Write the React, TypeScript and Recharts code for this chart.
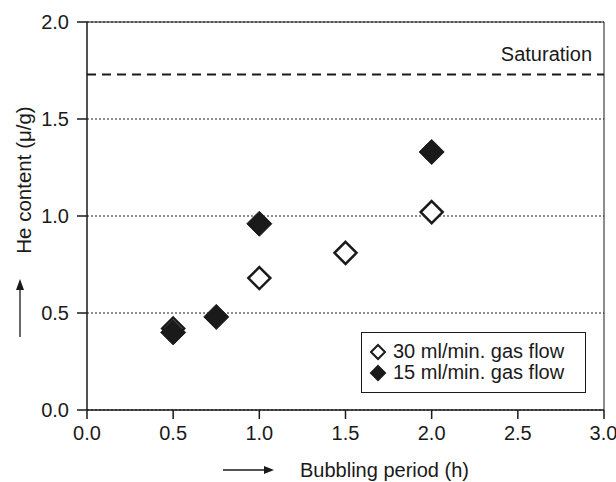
import { CartesianGrid, ReferenceLine, Scatter, ScatterChart, XAxis, YAxis } from "recharts";

const xTicks = [0, 0.5, 1, 1.5, 2, 2.5, 3];
const yTicks = [0, 0.5, 1, 1.5, 2];
const saturation = 1.73;

const flow30Hours = [0.5, 1.0, 1.5, 2.0];
const flow30Content = [0.42, 0.68, 0.81, 1.02];
const flow15Hours = [0.5, 0.75, 1.0, 2.0];
const flow15Content = [0.4, 0.48, 0.96, 1.33];

const flow30 = flow30Hours.map((x, i) => ({ x, y: flow30Content[i] }));
const flow15 = flow15Hours.map((x, i) => ({ x, y: flow15Content[i] }));

const FONT = "'Liberation Sans', Arial, sans-serif";
const INK = "#1a1a1a";

const OpenDiamond = (props: any) => {
  const { cx, cy } = props;
  const r = 11;
  return (
    <polygon
      points={`${cx},${cy - r} ${cx + r},${cy} ${cx},${cy + r} ${cx - r},${cy}`}
      fill="#fff"
      stroke={INK}
      strokeWidth={2.5}
    />
  );
};

const FilledDiamond = (props: any) => {
  const { cx, cy } = props;
  const r = 12.5;
  return (
    <polygon
      points={`${cx},${cy - r} ${cx + r},${cy} ${cx},${cy + r} ${cx - r},${cy}`}
      fill={INK}
      stroke={INK}
      strokeWidth={1}
    />
  );
};

const legendItems = [
  { label: "30 ml/min. gas flow", filled: false },
  { label: "15 ml/min. gas flow", filled: true },
];

const LegendBox = () => (
  <div
    style={{
      position: "absolute",
      left: 361,
      top: 332,
      width: 225,
      height: 61,
      border: `1px solid ${INK}`,
      background: "#fff",
      fontFamily: FONT,
      fontSize: 20,
      color: INK,
      padding: "8px 0 0 7px",
      lineHeight: "21px",
      boxSizing: "border-box",
    }}
  >
    {legendItems.map((item) => (
      <div key={item.label} style={{ display: "flex", alignItems: "center", whiteSpace: "nowrap" }}>
        <svg width={18} height={18} style={{ marginRight: 6 }}>
          <polygon
            points="9,2 16,9 9,16 2,9"
            fill={item.filled ? INK : "#fff"}
            stroke={INK}
            strokeWidth={2}
          />
        </svg>
        <span>{item.label}</span>
      </div>
    ))}
  </div>
);

const SaturationLabel = (props: any) => {
  const { viewBox } = props;
  return (
    <text
      x={viewBox.x + viewBox.width - 12}
      y={viewBox.y - 13}
      textAnchor="end"
      fontFamily={FONT}
      fontSize={20}
      fill={INK}
    >
      Saturation
    </text>
  );
};

const YTitle = () => (
  <g>
    <text
      x={23}
      y={180}
      transform="rotate(-90 23 180)"
      textAnchor="middle"
      dominantBaseline="central"
      fontFamily={FONT}
      fontSize={20.5}
      fill={INK}
    >
      He content (μ/g)
    </text>
    <line x1={20} y1={337} x2={20} y2={288} stroke={INK} strokeWidth={1.3} />
    <polygon points="20,279 16,290 24,290" fill={INK} />
  </g>
);

const XTitle = () => (
  <g>
    <line x1={223} y1={470} x2={265} y2={470} stroke={INK} strokeWidth={1.3} />
    <polygon points="274,470 264,466 264,474" fill={INK} />
    <text x={300} y={477} fontFamily={FONT} fontSize={20} fill={INK}>
      Bubbling period (h)
    </text>
  </g>
);

const tickStyle = { fontFamily: FONT, fontSize: 20, fill: INK };

export default function App() {
  return (
    <div style={{ position: "absolute", left: 0, top: 0, width: 616, height: 482, background: "#fff" }}>
      <ScatterChart width={616} height={482} margin={{ top: 22, right: 12, bottom: 0, left: 0 }}>
        <CartesianGrid vertical={false} stroke={INK} strokeDasharray="2 2" strokeWidth={1} />
        <XAxis
          type="number"
          dataKey="x"
          domain={[0, 3]}
          ticks={xTicks}
          tickFormatter={(v: number) => v.toFixed(1)}
          height={72}
          tickSize={9}
          tickMargin={7}
          tick={tickStyle}
          stroke={INK}
          strokeWidth={1.5}
          label={{ content: () => <XTitle /> }}
        />
        <YAxis
          type="number"
          dataKey="y"
          domain={[0, 2]}
          ticks={yTicks}
          tickFormatter={(v: number) => v.toFixed(1)}
          width={87}
          tickSize={10}
          tickMargin={8}
          tick={tickStyle}
          stroke={INK}
          strokeWidth={1.5}
          label={{ content: () => <YTitle /> }}
        />
        <ReferenceLine y={2} stroke={INK} strokeWidth={1} />
        <ReferenceLine x={3} stroke={INK} strokeWidth={1} />
        <ReferenceLine
          y={saturation}
          stroke={INK}
          strokeWidth={2}
          strokeDasharray="9 6"
          label={{ content: (p: any) => <SaturationLabel {...p} /> }}
        />
        <Scatter
          name="30 ml/min. gas flow"
          data={flow30}
          shape={(p: any) => <OpenDiamond {...p} />}
          isAnimationActive={false}
        />
        <Scatter
          name="15 ml/min. gas flow"
          data={flow15}
          shape={(p: any) => <FilledDiamond {...p} />}
          isAnimationActive={false}
        />
      </ScatterChart>
      <LegendBox />
    </div>
  );
}
